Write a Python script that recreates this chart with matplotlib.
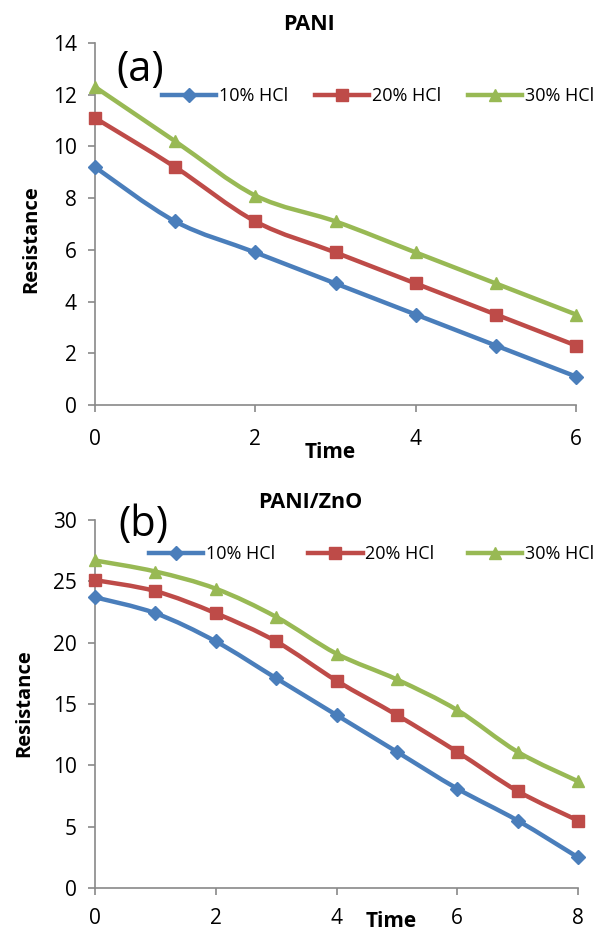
import numpy as np
import matplotlib.pyplot as plt
from matplotlib.path import Path
from matplotlib.patches import PathPatch
from matplotlib.lines import Line2D

plt.rcParams['font.family'] = ['Open Sans', 'DejaVu Sans']

# data
labels = ['10% HCl', '20% HCl', '30% HCl']
colors = ['#4A7EBB', '#BE4B48', '#98B954']
markers = ['D', 's', '^']
msizes = [7, 8, 9]

time_a = [0, 1, 2, 3, 4, 5, 6]
pani_10 = [9.2, 7.1, 5.9, 4.7, 3.5, 2.3, 1.1]
pani_20 = [11.1, 9.2, 7.1, 5.9, 4.7, 3.5, 2.3]
pani_30 = [12.3, 10.2, 8.1, 7.1, 5.9, 4.7, 3.5]

time_b = [0, 1, 2, 3, 4, 5, 6, 7, 8]
zno_10 = [23.7, 22.4, 20.1, 17.1, 14.1, 11.1, 8.1, 5.5, 2.5]
zno_20 = [25.1, 24.2, 22.4, 20.1, 16.9, 14.1, 11.1, 7.9, 5.5]
zno_30 = [26.7, 25.8, 24.4, 22.1, 19.1, 17.0, 14.5, 11.1, 8.7]


def smooth_path(x, y):
    # excel-like smoothed line: catmull-rom turned into bezier segments
    p = np.column_stack([x, y]).astype(float)
    verts = [p[0]]
    codes = [Path.MOVETO]
    n = len(p)
    for i in range(n - 1):
        p0 = p[i - 1] if i > 0 else p[i]
        p3 = p[i + 2] if i + 2 < n else p[i + 1]
        c1 = p[i] + (p[i + 1] - p0) / 6
        c2 = p[i + 1] - (p3 - p[i]) / 6
        verts += [c1, c2, p[i + 1]]
        codes += [Path.CURVE4] * 3
    return Path(verts, codes)


def panel(ax, x, series, ymax, ystep, xmax, xpad):
    for y, c, m, ms in zip(series, colors, markers, msizes):
        ax.add_patch(PathPatch(smooth_path(x, y), fill=False, ec=c, lw=3.2,
                               capstyle='round', joinstyle='round', zorder=2))
        ax.plot(x, y, ls='none', marker=m, ms=ms, color=c, zorder=3,
                clip_on=False)
    ax.set_xlim(0, xmax)
    ax.set_ylim(0, ymax)
    ax.set_xticks(range(0, xmax + 1, 2))
    ax.set_yticks(np.arange(0, ymax + 1, ystep))
    for s in ['top', 'right']:
        ax.spines[s].set_visible(False)
    for s in ['left', 'bottom']:
        ax.spines[s].set_color('#898989')
        ax.spines[s].set_linewidth(1.2)
    ax.tick_params(axis='both', direction='out', length=5, width=1.2,
                   color='#898989', labelsize=15)
    ax.tick_params(axis='x', pad=xpad)
    ax.tick_params(axis='y', pad=8)


fig = plt.figure(figsize=(5.96, 9.3), dpi=100)

ax1 = fig.add_axes([95 / 596, 1 - 405 / 930, 481 / 596, 362 / 930])
panel(ax1, time_a, [pani_10, pani_20, pani_30], 14, 2, 6, 12)

ax2 = fig.add_axes([95 / 596, 1 - 888 / 930, 483 / 596, 368 / 930])
panel(ax2, time_b, [zno_10, zno_20, zno_30], 30, 5, 8, 9.5)

handles = [Line2D([], [], color=c, marker=m, ms=ms, lw=3.2)
           for c, m, ms in zip(colors, markers, msizes)]

leg_kw = dict(ncol=3, frameon=False, fontsize=13, loc='center left',
              handlelength=3.0, handletextpad=0.15,
              borderaxespad=0, borderpad=0)
fig.legend(handles, labels, bbox_to_anchor=(162 / 596, 1 - 96 / 930),
           columnspacing=1.5, **leg_kw)
fig.legend(handles, labels, bbox_to_anchor=(149 / 596, 1 - 554 / 930),
           columnspacing=1.85, **leg_kw)

fig.text(309 / 596, 1 - 25 / 930, 'PANI', ha='center', va='center',
         fontsize=15.5, fontweight='bold')
fig.text(310 / 596, 1 - 502 / 930, 'PANI/ZnO', ha='center', va='center',
         fontsize=15.5, fontweight='bold')
fig.text(140 / 596, 1 - 70 / 930, '(a)', ha='center', va='center', fontsize=30)
fig.text(143 / 596, 1 - 525 / 930, '(b)', ha='center', va='center', fontsize=30)

fig.text(330 / 596, 1 - 452 / 930, 'Time', ha='center', va='center',
         fontsize=15, fontweight='bold')
fig.text(391 / 596, 1 - 921 / 930, 'Time', ha='center', va='center',
         fontsize=15, fontweight='bold')
fig.text(31 / 596, 1 - 239 / 930, 'Resistance', ha='center', va='center',
         rotation=90, fontsize=14.5, fontweight='bold')
fig.text(24 / 596, 1 - 703 / 930, 'Resistance', ha='center', va='center',
         rotation=90, fontsize=14.5, fontweight='bold')

fig.savefig('out.png', dpi=100)
